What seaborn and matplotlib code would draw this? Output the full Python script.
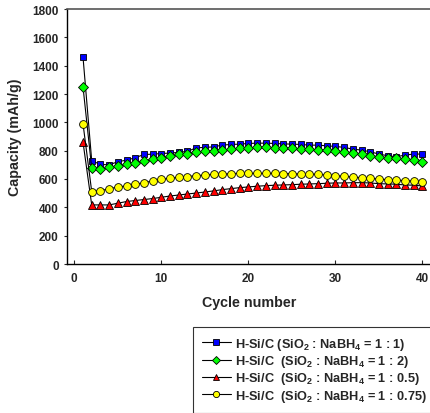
import matplotlib
matplotlib.use("Agg")
import matplotlib.pyplot as plt
import seaborn as sns
import pandas as pd
import numpy as np

cycles = list(range(1, 41))
blue_1_1 = [1460, 729, 703, 700, 722, 733, 750, 773, 775, 780, 783, 788, 795, 820, 823,
            827, 839, 844, 846, 851, 853, 853, 851, 848, 846, 844, 839, 839, 834, 830,
            823, 811, 804, 792, 776, 764, 757, 769, 776, 776]
green_1_2 = [1250, 675, 670, 682, 694, 703, 715, 726, 738, 750, 762, 773, 780, 788, 795,
             797, 804, 811, 816, 820, 823, 823, 820, 818, 816, 811, 809, 804, 802, 799,
             792, 785, 773, 764, 757, 750, 745, 740, 733, 722]
red_1_05 = [860, 417, 417, 417, 429, 441, 448, 455, 462, 471, 480, 487, 494, 501, 508,
            516, 525, 532, 539, 544, 549, 553, 556, 558, 560, 563, 565, 567, 570, 572,
            572, 574, 574, 572, 567, 565, 563, 558, 556, 551]
yellow_1_075 = [990, 511, 518, 530, 544, 551, 563, 574, 586, 598, 605, 612, 617, 624, 628,
                633, 635, 638, 640, 640, 640, 640, 640, 638, 638, 635, 635, 633, 628, 624,
                619, 614, 609, 605, 600, 595, 593, 588, 586, 581]

labels = [r"H-Si/C (SiO$_{2}$ : NaBH$_{4}$ = 1 : 1)",
          r"H-Si/C  (SiO$_{2}$ : NaBH$_{4}$ = 1 : 2)",
          r"H-Si/C  (SiO$_{2}$ : NaBH$_{4}$ = 1 : 0.5)",
          r"H-Si/C  (SiO$_{2}$ : NaBH$_{4}$ = 1 : 0.75)"]
x_ticks = [0, 10, 20, 30, 40]
y_ticks = [0, 200, 400, 600, 800, 1000, 1200, 1400, 1600, 1800]

sns.set_style("ticks")
plt.rcParams['font.family'] = ['Liberation Sans', 'DejaVu Sans']
plt.rcParams['font.weight'] = 'bold'
plt.rcParams['mathtext.fontset'] = 'custom'
plt.rcParams['mathtext.rm'] = 'Liberation Sans:bold'
plt.rcParams['mathtext.bf'] = 'Liberation Sans:bold'
plt.rcParams['mathtext.default'] = 'bf'

W, H = 431, 414
fig = plt.figure(figsize=(W/100, H/100), dpi=100)
ax = fig.add_axes([67/W, 149/H, 364/W, 255/H])

series = [
    (blue_1_1, 's', '#0000ff', 5.0),
    (green_1_2, 'D', '#00ff00', 4.6),
    (red_1_05, '^', '#ff0000', 5.6),
    (yellow_1_075, 'o', '#ffff00', 5.6),
]
for (vals, mk, col, ms), lab in zip(series, labels):
    df = pd.DataFrame({"Cycle": cycles, "Capacity": vals})
    sns.lineplot(data=df, x="Cycle", y="Capacity", ax=ax, color='black', lw=0.8,
                 marker=mk, markersize=ms, markerfacecolor=col,
                 markeredgecolor='black', markeredgewidth=0.6, label=lab, legend=False)

ax.set_xlim(-0.84, 40.98)
ax.set_ylim(0, 1800)
ax.set_xticks(x_ticks)
ax.set_yticks(y_ticks)
ax.tick_params(axis='x', direction='in', length=3, width=0.8, labelsize=8.5, pad=6)
ax.tick_params(axis='y', direction='out', length=2.5, width=0.8, labelsize=8.5, pad=3.5)
for lab in ax.get_xticklabels() + ax.get_yticklabels():
    lab.set_fontweight('bold')
ax.set_xlabel("Cycle number", fontsize=10.3, fontweight='bold')
ax.set_ylabel("Capacity (mAh/g)", fontsize=10.3, fontweight='bold')
ax.xaxis.set_label_coords(0.5, -(296 - 265) / 255)
ax.yaxis.set_label_coords(-(67 - 22) / 364, 0.5)
ax.spines['right'].set_visible(False)
ax.spines['top'].set_color('#555555')
ax.spines['top'].set_linewidth(1.2)
for s in ['left', 'bottom']:
    ax.spines[s].set_color('black')
    ax.spines[s].set_linewidth(1.0)

h, l = ax.get_legend_handles_labels()
leg = fig.legend(h, l, loc='upper left', bbox_to_anchor=(193/W, 1 - 328/H),
                 bbox_transform=fig.transFigure, frameon=True, fancybox=False,
                 edgecolor='black', fontsize=9.2, handlelength=2.27, handletextpad=0.3,
                 labelspacing=0.1, borderpad=0.7, borderaxespad=0, markerscale=0.8)
leg.get_frame().set_linewidth(0.8)
for t in leg.get_texts():
    t.set_fontweight('bold')

fig.savefig("out.png", dpi=100)
